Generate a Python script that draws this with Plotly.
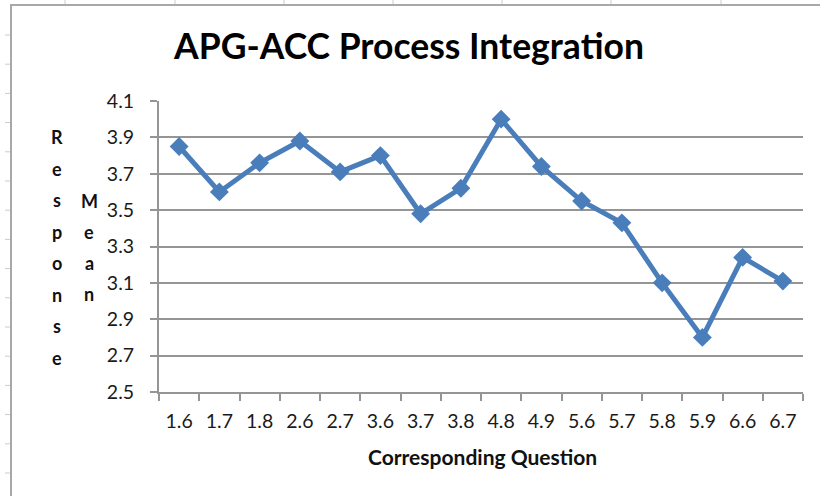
import plotly.graph_objects as go

# ---- data ----
questions = ["1.6", "1.7", "1.8", "2.6", "2.7", "3.6", "3.7", "3.8",
             "4.8", "4.9", "5.6", "5.7", "5.8", "5.9", "6.6", "6.7"]
mean_response = [3.85, 3.60, 3.76, 3.88, 3.71, 3.80, 3.48, 3.62,
                 4.00, 3.74, 3.55, 3.43, 3.10, 2.80, 3.24, 3.11]
y_ticks = [2.5, 2.7, 2.9, 3.1, 3.3, 3.5, 3.7, 3.9, 4.1]
title_text = "APG-ACC Process Integration"
x_title = "Corresponding Question"
y_title_col1 = "Response"
y_title_col2 = "Mean"

W, H = 820, 496
L, R, T, B = 159, 803, 101, 392  # plot area in pixels

def px_x(px):
    return (px - L) / (R - L)

def px_y(py):
    return (B - py) / (B - T)

FONT = "Lato, 'Open Sans', sans-serif"
BLUE = "#4A7EBB"
GRID = "#959595"

fig = go.Figure()
fig.add_trace(go.Scatter(
    x=questions, y=mean_response, mode="lines+markers",
    line=dict(color=BLUE, width=5),
    marker=dict(symbol="diamond", size=14.5, color=BLUE),
    showlegend=False, hoverinfo="x+y",
))

shapes = []
# spreadsheet frame lines peeking around the chart
shapes.append(dict(type="line", xref="paper", yref="paper",
                   x0=px_x(11), x1=px_x(821), y0=px_y(5), y1=px_y(5),
                   line=dict(color="#a8a8a8", width=2), layer="below"))
shapes.append(dict(type="line", xref="paper", yref="paper",
                   x0=px_x(11), x1=px_x(11), y0=px_y(4), y1=px_y(497),
                   line=dict(color="#a8a8a8", width=2), layer="below"))
for cx in [65, 175, 284, 393, 502, 611, 721]:
    shapes.append(dict(type="line", xref="paper", yref="paper",
                       x0=px_x(cx), x1=px_x(cx), y0=px_y(0), y1=px_y(4),
                       line=dict(color="#cccccc", width=1), layer="below"))
ry = 35.0
while ry < H:
    shapes.append(dict(type="line", xref="paper", yref="paper",
                       x0=px_x(5), x1=px_x(10), y0=px_y(ry), y1=px_y(ry),
                       line=dict(color="#cccccc", width=1), layer="below"))
    ry += 29.2

annotations = []
# stacked vertical y-axis title letters
for i, ch in enumerate(y_title_col1):
    annotations.append(dict(text=ch, xref="paper", yref="paper",
                            x=px_x(57), y=px_y(137 + i * 31.5),
                            xanchor="center", yanchor="middle", showarrow=False,
                            font=dict(family=FONT, size=18, color="#111111", weight="bold")))
for i, ch in enumerate(y_title_col2):
    annotations.append(dict(text=ch, xref="paper", yref="paper",
                            x=px_x(89), y=px_y(201 + i * 31),
                            xanchor="center", yanchor="middle", showarrow=False,
                            font=dict(family=FONT, size=18, color="#111111", weight="bold")))
annotations.append(dict(text=x_title, xref="paper", yref="paper",
                        x=px_x(482), y=px_y(456), xanchor="center", yanchor="middle",
                        showarrow=False,
                        font=dict(family=FONT, size=21, color="#111111", weight="bold")))

fig.update_layout(
    width=W, height=H,
    margin=dict(l=L, r=W - R, t=T, b=H - B, pad=0),
    paper_bgcolor="white", plot_bgcolor="white",
    title=dict(text=title_text, x=409 / W, xanchor="center",
               y=1 - 47 / H, yanchor="middle", yref="container",
               font=dict(family=FONT, size=35.5, color="#000000", weight="bold")),
    shapes=shapes, annotations=annotations,
    xaxis=dict(type="category", range=[-0.5, len(questions) - 0.5],
               showgrid=False, showline=True,
               linecolor=GRID, linewidth=2, ticks="outside", ticklen=7,
               tickcolor=GRID, tickwidth=2, tickson="boundaries",
               tickfont=dict(family=FONT, size=19.5, color="#1a1a1a"),
               ticklabelstandoff=11, zeroline=False, fixedrange=True),
    yaxis=dict(range=[2.5, 4.1], tickvals=y_ticks,
               ticktext=[f"{v:.1f}" for v in y_ticks],
               showgrid=True, gridcolor=GRID, gridwidth=2,
               showline=True, linecolor=GRID, linewidth=2,
               ticks="outside", ticklen=7, tickcolor=GRID, tickwidth=2,
               tickfont=dict(family=FONT, size=19.5, color="#1a1a1a"),
               ticklabelstandoff=12, zeroline=False, fixedrange=True),
)

fig.write_html("out.html", config={"displayModeBar": False},
               post_script="document.body.style.margin='0';document.body.style.overflow='hidden';")
